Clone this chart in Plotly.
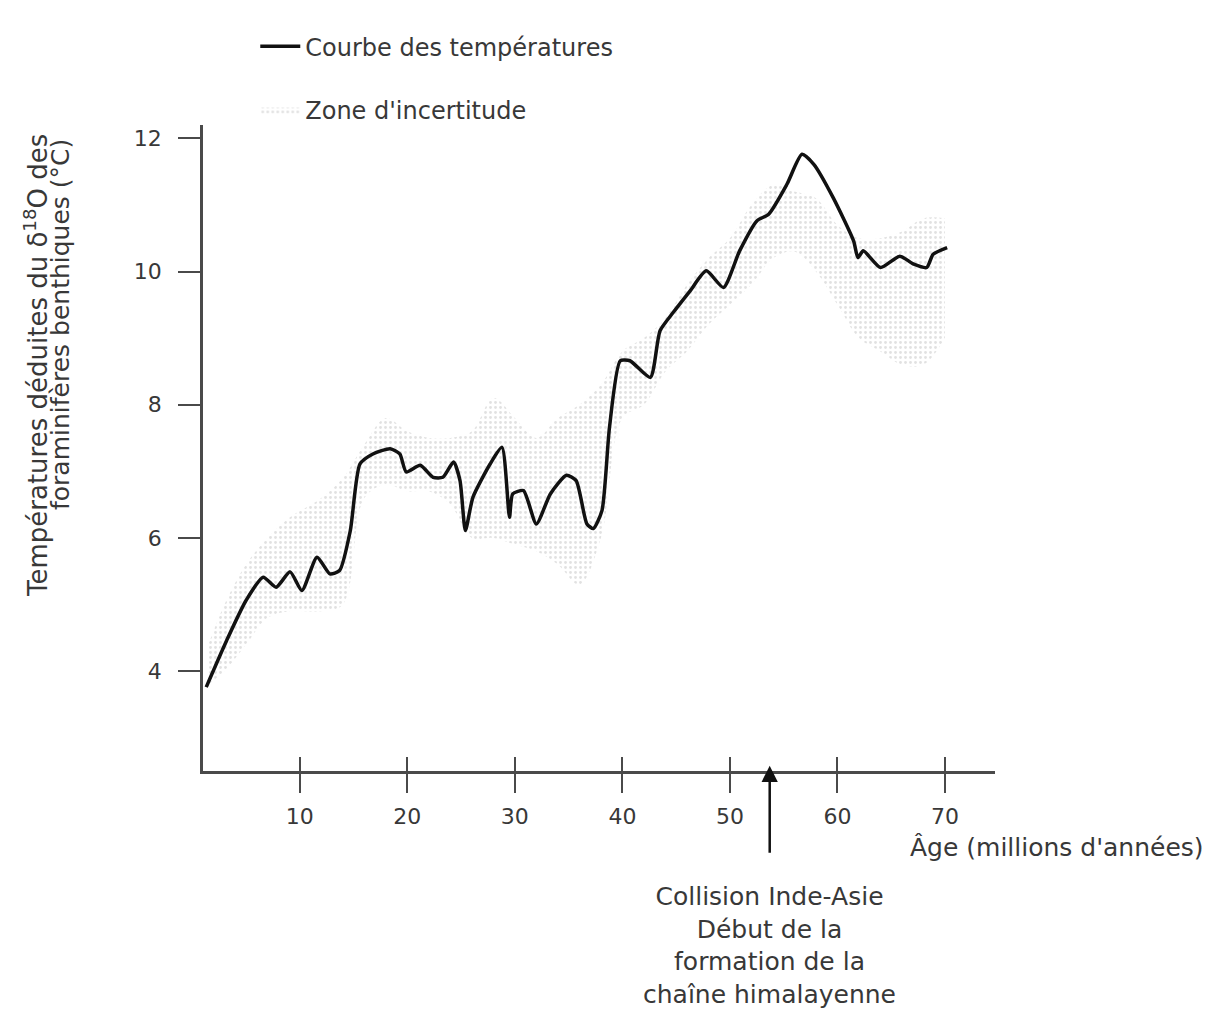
import plotly.graph_objects as go

# Temperature curve (age in Ma, temperature in °C)
age = [1.3, 3.2, 5.0, 6.6, 7.8, 9.1, 10.2, 11.6, 12.8, 13.7, 14.7, 15.6, 16.8, 18.4, 19.3,
       19.9, 21.2, 22.4, 23.3, 24.3, 24.9, 25.4, 26.1, 27.7, 28.8, 29.5, 29.8, 30.8, 32.0,
       33.3, 34.8, 35.7, 36.7, 37.3, 38.1, 38.8, 39.8, 40.7, 42.6, 43.5, 44.7, 46.3, 47.8,
       49.4, 50.9, 52.5, 53.6, 55.3, 56.7, 57.8, 59.6, 61.5, 61.9, 62.4, 64.0, 65.8, 67.1,
       68.3, 68.9, 70.2]
temp = [3.76, 4.46, 5.06, 5.41, 5.26, 5.49, 5.21, 5.71, 5.46, 5.51, 6.11, 7.11, 7.26, 7.34, 7.26,
        6.99, 7.09, 6.91, 6.91, 7.14, 6.86, 6.11, 6.61, 7.11, 7.36, 6.31, 6.66, 6.71, 6.21,
        6.66, 6.94, 6.86, 6.21, 6.14, 6.41, 7.66, 8.66, 8.66, 8.41, 9.11, 9.38, 9.71, 10.01,
        9.76, 10.31, 10.76, 10.86, 11.31, 11.76, 11.61, 11.11, 10.46, 10.21, 10.31, 10.06, 10.23, 10.11,
        10.06, 10.26, 10.36]

# Uncertainty zone bounds
zone_age = [1.5, 3, 5, 7, 9, 12, 14, 16, 18, 20, 22, 24, 26, 28, 30, 32, 34, 36, 38, 40,
            42, 44, 46, 48, 50, 52, 54, 56, 58, 60, 62, 64, 66, 68, 70]
zone_upper = [4.4, 5.0, 5.6, 6.0, 6.3, 6.6, 6.9, 7.4, 7.8, 7.6, 7.5, 7.5, 7.6, 8.1, 7.8, 7.5, 7.8,
              8.0, 8.3, 8.8, 9.0, 9.3, 9.8, 10.2, 10.5, 11.0, 11.3, 11.2, 11.1, 10.7, 10.5, 10.5,
              10.6, 10.8, 10.8]
zone_lower = [3.8, 4.0, 4.4, 4.8, 4.9, 4.9, 5.0, 6.6, 6.8, 6.7, 6.7, 6.5, 6.0, 6.0, 5.9, 5.8, 5.6,
              5.3, 6.0, 7.8, 8.0, 8.5, 8.8, 9.2, 9.5, 9.8, 10.2, 10.3, 10.0, 9.5, 9.0, 8.8,
              8.6, 8.6, 9.0]

x_ticks = [10, 20, 30, 40, 50, 60, 70]
y_ticks = [4, 6, 8, 10, 12]
collision_age = 53.7

FONT = "DejaVu Sans, Arial, sans-serif"
TXT = "#383838"
AX = "#4a4a4a"

fig = go.Figure()
fig.add_trace(go.Scatter(x=zone_age, y=zone_lower, mode="lines", line=dict(width=0),
                         showlegend=False, hoverinfo="skip", line_shape="spline"))
fig.add_trace(go.Scatter(x=zone_age, y=zone_upper, mode="lines", line=dict(width=0),
                         fill="tonexty", fillcolor="rgba(222,222,222,0.38)",
                         fillpattern=dict(shape=".", fgcolor="#c4c4c4", bgcolor="rgba(0,0,0,0)",
                                          size=5, solidity=0.25, fillmode="overlay"),
                         line_shape="spline", name="Zone d'incertitude",
                         legendgroup="b", legendrank=2))
fig.add_trace(go.Scatter(x=age, y=temp, mode="lines", line=dict(color="#111111", width=3.5),
                         line_shape="spline", line_smoothing=0.6, name="Courbe des températures",
                         legendgroup="a", legendrank=1))

# Crossing ticks on x axis (inside part)
fig.add_trace(go.Scatter(x=[None], y=[None], xaxis="x2", showlegend=False, hoverinfo="skip"))

# The page body has an 8px margin; figure is sized so the plot area lands at
# page pixels x 203..995, y 125..771.
fig.update_layout(
    width=1210, height=1003,
    paper_bgcolor="white", plot_bgcolor="white",
    margin=dict(l=195, r=223, t=117, b=240, autoexpand=False),
    font=dict(family=FONT, color=TXT, size=22),
    showlegend=True,
    legend=dict(x=0.066, y=1.156, xanchor="left", yanchor="top", bgcolor="rgba(0,0,0,0)",
                font=dict(size=24, color=TXT), tracegroupgap=29, traceorder="grouped",
                itemwidth=40),
    xaxis=dict(range=[1, 74.65], showgrid=False, zeroline=False, showline=True,
               linecolor=AX, linewidth=2.5, ticks="outside", ticklen=19, tickwidth=2,
               tickcolor=AX, tickvals=x_ticks, tickfont=dict(size=22, color=TXT),
               ticklabelstandoff=5, automargin=False),
    xaxis2=dict(range=[1, 74.65], overlaying="x", anchor="y", side="bottom", showgrid=False,
                zeroline=False, showline=False, ticks="inside", ticklen=14, tickwidth=2,
                tickcolor=AX, tickvals=x_ticks, showticklabels=False, automargin=False),
    yaxis=dict(range=[2.5, 12.2], showgrid=False, zeroline=False, showline=True,
               linecolor=AX, linewidth=2.5, ticks="outside", ticklen=22, tickwidth=2,
               tickcolor=AX, tickvals=y_ticks, tickfont=dict(size=22, color=TXT),
               ticklabelstandoff=12, automargin=False),
)

# Y-axis title (two rotated lines)
fig.add_annotation(xref="paper", yref="paper", x=(36 - 203) / 792, y=(771 - 366) / 646,
                   text="Températures déduites du δ<sup>18</sup>O des", textangle=-90,
                   showarrow=False, xanchor="center", yanchor="middle",
                   font=dict(size=26, color=TXT))
fig.add_annotation(xref="paper", yref="paper", x=(60 - 203) / 792, y=(771 - 325) / 646,
                   text="foraminifères benthiques (°C)", textangle=-90,
                   showarrow=False, xanchor="center", yanchor="middle",
                   font=dict(size=25, color=TXT))

fig.add_annotation(xref="paper", yref="paper", x=(908 - 203) / 792, y=(771 - 847) / 646,
                   xanchor="left", yanchor="middle",
                   text="Âge (millions d'années)", showarrow=False, font=dict(size=25, color=TXT))

# Collision text with its arrow pointing up to the x axis
fig.add_annotation(x=collision_age, y=2.58, xref="x", yref="y",
                   text="Collision Inde-Asie<br>Début de la<br>formation de la<br>chaîne himalayenne",
                   showarrow=True, ax=0, ay=180, arrowhead=2, arrowsize=1.3, arrowwidth=2.5,
                   arrowcolor="#111111", startstandoff=28, align="center",
                   font=dict(size=25, color=TXT))

fig.write_html("out.html")
